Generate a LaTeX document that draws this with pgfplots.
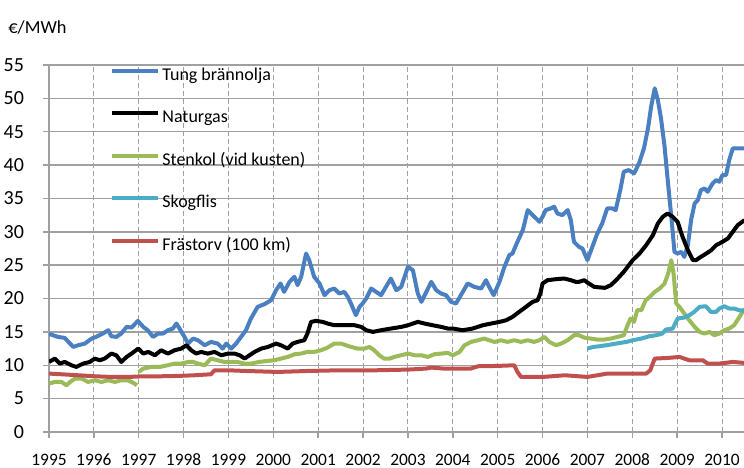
\documentclass[border=0pt]{standalone}
\usepackage{fontspec}
\setmainfont{Carlito}
\usepackage{pgfplots}
\pgfplotsset{compat=1.18}
\definecolor{cblue}{HTML}{4A7FC1}
\definecolor{cgreen}{HTML}{9BBB59}
\definecolor{ccyan}{HTML}{4BACC6}
\definecolor{cred}{HTML}{C0504D}
\definecolor{gridc}{HTML}{A0A0A0}
\begin{document}
\begin{tikzpicture}
\begin{axis}[
  scale only axis, width=347.5pt, height=183.5pt,
  xmin=1995, xmax=2010.49, ymin=0, ymax=55,
  axis x line=bottom, axis y line=left,
  axis line style={-, draw=gridc, line width=0.75pt},
  xtick={1995,1996,...,2010},
  xticklabels={1995,1996,1997,1998,1999,2000,2001,2002,2003,2004,2005,2006,2007,2008,2009,2010},
  ytick={0,5,...,55},
  yticklabels={0,5,10,15,20,25,30,35,40,45,50,55},
  tick align=outside, major tick length=3pt,
  tick style={draw=gridc, line width=0.75pt},
  xticklabel style={font=\fontsize{8.7}{10}\selectfont, yshift=-4.5pt},
  yticklabel style={font=\fontsize{10}{12}\selectfont, xshift=-6pt},
  xmajorgrids, ymajorgrids,
  x grid style={draw=gridc, line width=0.5pt, dash pattern=on 2.5pt off 1.5pt},
  y grid style={draw=gridc, line width=0.75pt},
  ylabel={€/MWh},
  every axis y label/.style={at={(rel axis cs:0,1)}, anchor=west, inner sep=0pt, xshift=-20.5pt, yshift=18.5pt, font=\fontsize{9.2}{11}\selectfont},
  unbounded coords=jump,
  legend cell align=left,
  legend style={at={(rel axis cs:0,1)}, anchor=north west, xshift=30.5pt, yshift=0pt,
    draw=none, fill=none, inner sep=0pt, row sep=10.75pt,
    nodes={inner sep=1pt, text height=6.5pt, text depth=2pt, font=\fontsize{9}{11}\selectfont}},
  legend image code/.code={\draw[#1, line width=2pt] (0pt,2.6pt) -- (23pt,2.6pt);},
  every axis plot/.append style={line width=2pt, line join=round},
]
\coordinate (bl) at (rel axis cs:0,0);
\coordinate (tr) at (rel axis cs:1,1);
\addplot[cblue] coordinates {
(1995.00,14.7) (1995.2,14.25) (1995.35,14.1) (1995.54,12.75) (1995.65,13) (1995.8,13.25) (1995.95,14) (1996.05,14.25) (1996.2,14.75) (1996.32,15.25) (1996.39,14.35) (1996.5,14.25) (1996.61,14.75) (1996.73,15.75) (1996.84,15.65) (1996.98,16.65) (1997.1,15.75) (1997.2,15.25) (1997.32,14.25) (1997.43,14.75) (1997.54,14.75) (1997.65,15.25) (1997.76,15.5) (1997.84,16.25) (1997.91,15.5) (1998.02,14.25) (1998.1,13.25) (1998.21,14) (1998.32,13.75) (1998.47,13) (1998.61,13.5) (1998.76,13.25) (1998.87,12.5) (1998.95,13.25) (1999.06,12.5) (1999.17,13.25) (1999.28,14.25) (1999.39,15.25)
(1999.5,17) (1999.65,18.75) (1999.8,19.15) (1999.95,19.75) (2000.06,21.25) (2000.16,22.25) (2000.24,21) (2000.36,22.5) (2000.47,23.25) (2000.54,22) (2000.62,23.25) (2000.73,26.75) (2000.8,25.75) (2000.91,23.25) (2001.03,22.25) (2001.14,20.5) (2001.25,21.25) (2001.36,21.5) (2001.47,20.75) (2001.58,21) (2001.66,20.25) (2001.73,19.25) (2001.84,17.5) (2001.92,18.75) (2001.99,19.25) (2002.07,20) (2002.18,21.5) (2002.29,21) (2002.4,20.5) (2002.51,21.75) (2002.62,23) (2002.74,21.25) (2002.85,21.75) (2003.0,24.75) (2003.11,24.25) (2003.22,20.75) (2003.3,19.5) (2003.41,21) (2003.52,22.5) (2003.63,21.25) (2003.74,20.75) (2003.85,20.5) (2003.96,19.5) (2004.07,19.25) (2004.18,20.5) (2004.33,22.25) (2004.48,21.75) (2004.63,21.5) (2004.74,22.75) (2004.81,21.75) (2004.91,20.5) (2005.04,22.5) (2005.15,24.75) (2005.26,26.5) (2005.33,26.75) (2005.44,28.5) (2005.56,30.25) (2005.67,33.25) (2005.78,32.5) (2005.93,31.5) (2006.0,32.25) (2006.07,33.25) (2006.18,33.5) (2006.26,33.75) (2006.33,32.75) (2006.44,32.5) (2006.56,33.25) (2006.63,31.75) (2006.7,28.5) (2006.81,27.75) (2006.89,27.5) (2007.0,25.75) (2007.11,27.75) (2007.22,29.75) (2007.33,31.25) (2007.44,33.5) (2007.56,33.5) (2007.63,33.25) (2007.74,36.5) (2007.81,39) (2007.92,39.25) (2008.04,38.75) (2008.15,40.25) (2008.26,42.5) (2008.35,45.5) (2008.42,48.75) (2008.5,51.5) (2008.57,49.75) (2008.64,47) (2008.72,42.75) (2008.79,37.75) (2008.87,32.25) (2008.94,27) (2009.01,26.75) (2009.09,27) (2009.16,26.25) (2009.24,28) (2009.31,31.75) (2009.39,34.25) (2009.46,34.75) (2009.53,36.25) (2009.61,36.5) (2009.68,36) (2009.79,37.25) (2009.87,37.75) (2009.94,37.5) (2010.01,38.5) (2010.09,38.5) (2010.16,40.75) (2010.24,42.5) (2010.35,42.5) (2010.5,42.5)
};
\addlegendentry{Tung brännolja}
\addplot[black] coordinates {
(1995.0,10.5) (1995.13,11) (1995.24,10.25) (1995.35,10.5) (1995.5,10) (1995.61,9.75) (1995.76,10.25) (1995.91,10.5) (1996.02,11) (1996.13,10.75) (1996.24,11) (1996.39,11.75) (1996.5,11.5) (1996.61,10.5) (1996.73,11.25) (1996.84,11.75) (1996.99,12.5) (1997.1,11.75) (1997.21,12) (1997.36,11.5) (1997.5,12.25) (1997.65,11.75) (1997.8,12.25) (1997.95,12.5) (1998.06,13) (1998.17,12.25) (1998.28,11.75) (1998.39,12) (1998.54,11.75) (1998.69,12) (1998.84,11.5) (1998.99,11.75) (1999.13,11.75) (1999.25,11.5) (1999.36,11) (1999.47,11.5) (1999.58,12) (1999.73,12.5) (1999.88,12.75) (2000.06,13.25) (2000.17,13) (2000.32,12.5) (2000.43,13.25) (2000.54,13.5) (2000.69,13.75) (2000.76,14.75) (2000.84,16.5) (2000.95,16.65) (2001.1,16.5) (2001.21,16.25) (2001.36,16) (2001.81,16) (2001.96,15.75) (2002.07,15.25) (2002.22,15) (2002.4,15.25) (2002.62,15.5) (2002.85,15.75) (2003.0,16) (2003.11,16.25) (2003.22,16.5) (2003.37,16.25) (2003.55,16) (2003.74,15.75) (2003.89,15.5) (2004.0,15.5) (2004.22,15.25) (2004.44,15.5) (2004.67,16) (2004.85,16.25) (2005.04,16.5) (2005.19,16.75) (2005.33,17.25) (2005.48,18) (2005.63,18.75) (2005.78,19.5) (2005.89,19.75) (2005.95,20.75) (2006.0,22.25) (2006.11,22.75) (2006.3,22.9) (2006.48,23) (2006.63,22.75) (2006.74,22.5) (2006.81,22.5) (2006.93,22.75) (2007.01,22.35) (2007.15,21.75) (2007.39,21.6) (2007.52,22) (2007.64,22.75) (2007.81,24) (2008.01,25.75) (2008.16,26.75) (2008.31,28) (2008.46,29.5) (2008.57,31.25) (2008.68,32.25) (2008.79,32.75) (2008.9,32.25) (2009.01,31.5) (2009.12,29.25) (2009.24,27.25) (2009.35,25.75) (2009.42,25.75) (2009.53,26.25) (2009.65,26.75) (2009.76,27.25) (2009.87,28) (2010.01,28.5) (2010.13,29) (2010.24,30) (2010.35,31) (2010.5,31.75)
};
\addlegendentry{Naturgas}
\addplot[cgreen] coordinates {
(1995.0,7.25) (1995.13,7.5) (1995.28,7.5) (1995.39,7) (1995.47,7.5) (1995.58,8) (1995.73,8) (1995.87,7.5) (1996.02,7.75) (1996.17,7.5) (1996.32,7.75) (1996.47,7.5) (1996.61,7.75) (1996.76,7.75) (1996.91,7.25) (1996.96,7.0)
(1996.98,nan)
(1997.0,9) (1997.1,9.5) (1997.28,9.75) (1997.47,9.75) (1997.65,10) (1997.8,10.25) (1997.95,10.25) (1998.1,10.5) (1998.21,10.5) (1998.32,10.25) (1998.47,10) (1998.61,11) (1998.76,10.75) (1998.91,10.5) (1999.06,10.5) (1999.2,10.5) (1999.35,10.25) (1999.5,10.25) (1999.68,10.5) (1999.87,10.65) (2000.02,10.75) (2000.17,11) (2000.32,11.25) (2000.47,11.65) (2000.62,11.75) (2000.76,12) (2000.91,12) (2001.06,12.25) (2001.21,12.65) (2001.36,13.25) (2001.51,13.25) (2001.62,13) (2001.73,12.75) (2001.88,12.5) (2002.03,12.5) (2002.14,12.75) (2002.25,12.25) (2002.36,11.5) (2002.47,11) (2002.59,11) (2002.7,11.25) (2002.85,11.5) (2003.0,11.75) (2003.15,11.5) (2003.3,11.5) (2003.44,11.25) (2003.59,11.65) (2003.74,11.75) (2003.89,11.85) (2004.0,11.5) (2004.15,12) (2004.26,13) (2004.41,13.5) (2004.56,13.75) (2004.7,14) (2004.81,13.75) (2004.93,13.5) (2005.07,13.75) (2005.22,13.5) (2005.37,13.75) (2005.52,13.5) (2005.67,13.75) (2005.81,13.5) (2005.93,13.75) (2006.04,14.25) (2006.15,13.5) (2006.3,13) (2006.41,13.25) (2006.56,13.75) (2006.7,14.5) (2006.81,14.5) (2006.93,14.15) (2007.07,14) (2007.22,13.85) (2007.37,13.85) (2007.52,14) (2007.67,14.25) (2007.81,14.5) (2007.88,15.75) (2007.96,17) (2008.04,16.5) (2008.11,18.25) (2008.2,18.25) (2008.3,19.75) (2008.39,20.25) (2008.5,21) (2008.61,21.5) (2008.72,22.25) (2008.8,23.75) (2008.87,25.75) (2008.92,23.75) (2008.98,19.25) (2009.05,18.75) (2009.16,17.75) (2009.27,16.75) (2009.39,15.75) (2009.5,15) (2009.61,14.75) (2009.72,15) (2009.83,14.5) (2009.94,14.75) (2010.05,15.25) (2010.16,15.5) (2010.27,16) (2010.39,17.25) (2010.5,18.5)
};
\addlegendentry{Stenkol (vid kusten)}
\addplot[ccyan] coordinates {
(2007.0,12.5) (2007.13,12.75) (2007.27,12.85) (2007.42,13) (2007.64,13.25) (2007.87,13.5) (2008.01,13.75) (2008.2,14) (2008.38,14.35) (2008.53,14.5) (2008.67,14.75) (2008.75,15.35) (2008.9,15.5) (2009.01,17) (2009.16,17.15) (2009.27,17.5) (2009.38,18) (2009.5,18.75) (2009.64,18.85) (2009.75,18) (2009.87,18) (2009.94,18.5) (2010.05,18.85) (2010.16,18.5) (2010.27,18.5) (2010.38,18.25) (2010.5,18.15)
};
\addlegendentry{Skogflis}
\addplot[cred] coordinates {
(1995.0,8.75) (1995.28,8.65) (1995.65,8.5) (1996.02,8.35) (1996.39,8.25) (1996.76,8.25) (1997.13,8.35) (1997.5,8.35) (1997.87,8.4) (1998.24,8.5) (1998.61,8.65) (1998.69,9.25) (1999.0,9.25) (1999.35,9.15) (1999.6,9.1) (2000.1,9) (2000.8,9.15) (2001.5,9.25) (2002.3,9.25) (2003.0,9.35) (2003.4,9.5) (2003.52,9.65) (2003.8,9.5) (2004.4,9.5) (2004.56,9.85) (2005.0,9.9) (2005.37,10) (2005.44,9) (2005.52,8.25) (2006.0,8.25) (2006.5,8.5) (2007.0,8.25) (2007.44,8.75) (2008.31,8.75) (2008.4,9.25) (2008.5,11) (2008.8,11.1) (2009.05,11.25) (2009.27,10.75) (2009.57,10.75) (2009.68,10.25) (2009.94,10.25) (2010.24,10.5) (2010.5,10.35)
};
\addlegendentry{Frästorv (100 km)}
\end{axis}
\pgfresetboundingbox
\path ([shift={(-24.5pt,-18pt)}]bl) rectangle ([shift={(0pt,32.5pt)}]tr);
\end{tikzpicture}
\end{document}
